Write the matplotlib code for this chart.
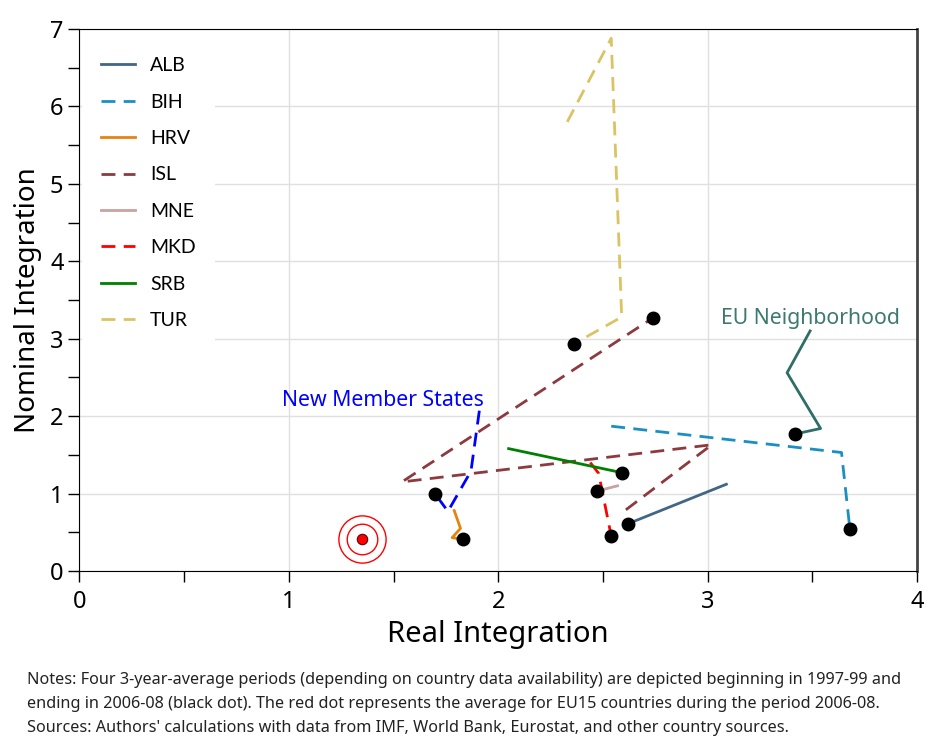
import matplotlib
matplotlib.use("Agg")
import matplotlib.pyplot as plt

# country paths: four 3-year-average periods, last point = 2006-08
countries = ["ALB", "BIH", "HRV", "ISL", "MNE", "MKD", "SRB", "TUR"]
alb_x = [3.09, 2.62]
alb_y = [1.12, 0.61]
bih_x = [2.54, 3.64, 3.68]
bih_y = [1.87, 1.53, 0.54]
hrv_x = [1.79, 1.82, 1.78, 1.83]
hrv_y = [0.78, 0.55, 0.43, 0.41]
isl_x = [2.61, 3.02, 1.54, 2.74]
isl_y = [0.79, 1.63, 1.15, 3.27]
mne_x = [2.57, 2.47]
mne_y = [1.10, 1.03]
mkd_x = [2.44, 2.48, 2.54]
mkd_y = [1.40, 1.26, 0.45]
srb_x = [2.05, 2.59]
srb_y = [1.58, 1.27]
tur_x = [2.33, 2.54, 2.59, 2.36]
tur_y = [5.80, 6.88, 3.28, 2.93]

# group averages
nms_x = [1.91, 1.87, 1.76, 1.70]
nms_y = [2.07, 1.29, 0.77, 0.99]
eun_x = [3.49, 3.38, 3.54, 3.42]
eun_y = [3.10, 2.56, 1.84, 1.77]

eu15_x = 1.35
eu15_y = 0.41

series = [
    ("ALB", alb_x, alb_y, "#416686", "-"),
    ("BIH", bih_x, bih_y, "#1b8fc3", "--"),
    ("HRV", hrv_x, hrv_y, "#e3850f", "-"),
    ("ISL", isl_x, isl_y, "#8c3a3f", "--"),
    ("MNE", mne_x, mne_y, "#c7a2a0", "-"),
    ("MKD", mkd_x, mkd_y, "#ff0000", "--"),
    ("SRB", srb_x, srb_y, "#008000", "-"),
    ("TUR", tur_x, tur_y, "#dbc363", "--"),
]

fig = plt.figure(figsize=(9.43, 7.5), dpi=100)
ax = fig.add_axes([0.0843, 0.2387, 0.888, 0.7227])

tick_font = "Noto Sans"

for name, xs, ys, col, ls in series:
    ax.plot(xs, ys, ls, color=col, lw=2, label=name, dashes=(5, 3) if ls == "--" else (None, None))
    ax.plot(xs[-1], ys[-1], "o", color="black", ms=9, zorder=5)

ax.plot(nms_x, nms_y, color="#0000ff", lw=2, dashes=(5, 3))
ax.plot(nms_x[-1], nms_y[-1], "o", color="black", ms=9, zorder=5)
ax.plot(eun_x, eun_y, color="#2e6e67", lw=2)
ax.plot(eun_x[-1], eun_y[-1], "o", color="black", ms=9, zorder=5)

# EU15 bullseye
ax.plot(eu15_x, eu15_y, "o", mfc="none", mec="red", ms=34, mew=1)
ax.plot(eu15_x, eu15_y, "o", mfc="none", mec="red", ms=22, mew=1)
ax.plot(eu15_x, eu15_y, "o", mfc="red", mec="#600000", ms=7.5, mew=0.8)

ax.text(1.45, 2.07, "New Member States", color="#0000ff", fontsize=15.3,
        ha="center", va="bottom", family=tick_font)
ax.text(3.49, 3.12, "EU Neighborhood", color="#3c7a70", fontsize=15.3,
        ha="center", va="bottom", family=tick_font)

ax.set_xlim(0, 4)
ax.set_ylim(0, 7)
ax.set_xticks([0, 1, 2, 3, 4])
ax.set_yticks(range(8))
ax.set_xticks([0.5, 1.5, 2.5, 3.5], minor=True)
ax.set_yticks([0.5 + i for i in range(7)], minor=True)
ax.tick_params(which="both", direction="out", length=8, width=1, labelsize=17)
ax.tick_params(axis="x", pad=6)
for lab in ax.get_xticklabels() + ax.get_yticklabels():
    lab.set_family(tick_font)
ax.grid(True, which="major", color="#e0e0e0", lw=1)
ax.set_axisbelow(True)

ax.spines["right"].set_color("#444444")
ax.spines["right"].set_linewidth(2)

ax.set_xlabel("Real Integration", fontsize=21, family=tick_font, labelpad=4)
ax.set_ylabel("Nominal Integration", fontsize=20, family=tick_font, labelpad=6)

leg = ax.legend(loc="upper left", bbox_to_anchor=(0.003, 0.984),
                prop={"family": "Lato", "size": 14}, frameon=True, facecolor="white",
                edgecolor="none", framealpha=1, fancybox=False,
                handlelength=1.7, handletextpad=0.8, labelspacing=1.0,
                borderpad=1.0, borderaxespad=0)
leg.set_zorder(10)

notes = [
    "Notes: Four 3-year-average periods (depending on country data availability) are depicted beginning in 1997-99 and",
    "ending in 2006-08 (black dot). The red dot represents the average for EU15 countries during the period 2006-08.",
    "Sources: Authors' calculations with data from IMF, World Bank, Eurostat, and other country sources.",
]
for i, line in enumerate(notes):
    fig.text(0.0286, 0.0933 - i * 0.032, line, fontsize=11.7, va="center",
             family=tick_font, color="#222222")

fig.savefig("out.png", dpi=100)
